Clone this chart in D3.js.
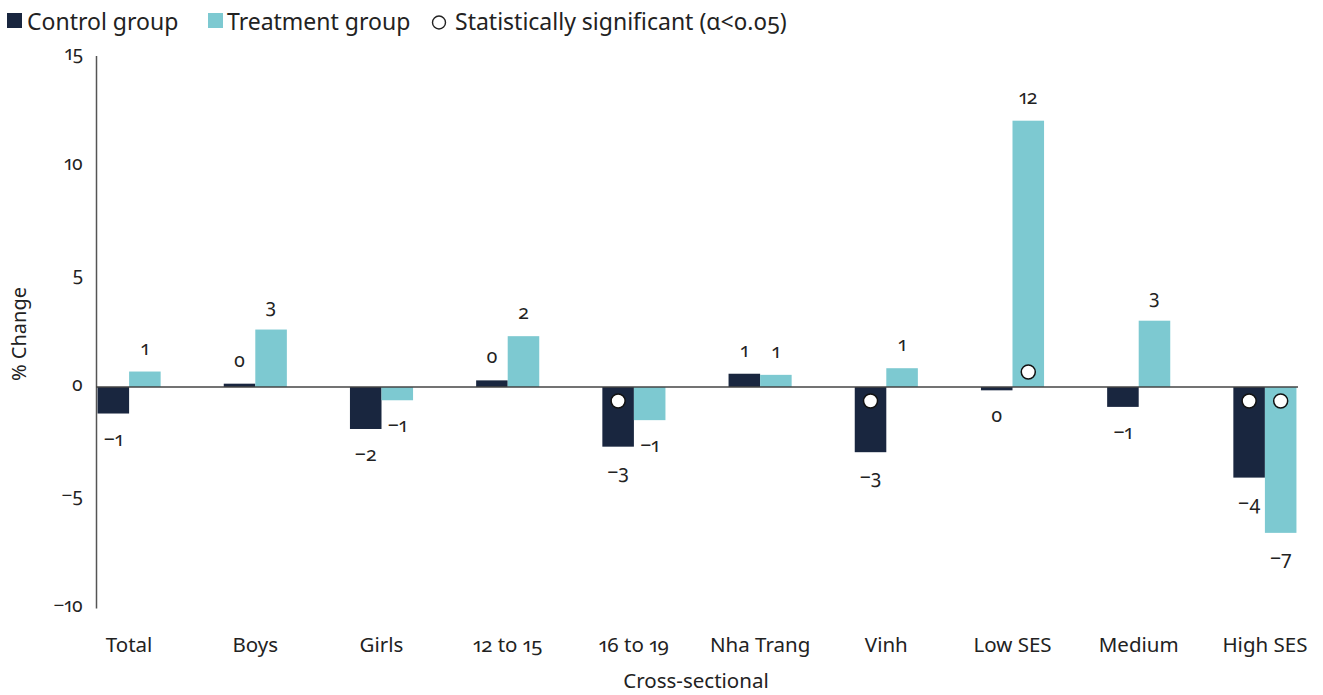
<!DOCTYPE html>
<html>
<head>
<meta charset="utf-8">
<script src="https://cdn.jsdelivr.net/npm/d3@7"></script>
<style>
  html, body { margin: 0; padding: 0; background: #fff; }
  svg text { font-family: "Noto Sans", "Open Sans", sans-serif; font-variant-numeric: oldstyle-nums proportional-nums; font-feature-settings: "onum" 1, "pnum" 1; }
</style>
</head>
<body>
<svg id="chart" width="1323" height="695"></svg>
<script>
// Percentage change by subgroup, control vs. treatment
const categories = ["Total", "Boys", "Girls", "12 to 15", "16 to 19", "Nha Trang", "Vinh", "Low SES", "Medium", "High SES"];
const controlValues = [-1.2, 0.15, -1.9, 0.3, -2.7, 0.6, -2.95, -0.15, -0.9, -4.1];
const treatmentValues = [0.7, 2.6, -0.6, 2.3, -1.5, 0.55, 0.85, 12.05, 3.0, -6.6];
const controlSignificant = [false, false, false, false, true, false, true, false, false, true];
const treatmentSignificant = [false, false, false, false, false, false, false, true, false, true];
const yTicks = [-10, -5, 0, 5, 10, 15];
const seriesNames = ["Control group", "Treatment group"];
const significanceLabel = "Statistically significant (\u03b1<0.05)";
const xTitle = "Cross-sectional";
const yTitle = "% Change";

const colors = { control: "#19263f", treatment: "#7dc9d1" };
const svg = d3.select("#chart");

const x = d3.scaleBand().domain(categories).range([66, 1328]).paddingInner(0.5).paddingOuter(0.25);
const sub = d3.scaleBand().domain(["control", "treatment"]).range([0, x.bandwidth()]);
const y = d3.scaleLinear().domain([-10, 15]).range([608, 55.5]);

const fmt = v => {
  const r = Math.round(v);
  return (r < 0 ? "\u2212" : "") + Math.abs(r);
};

// y axis
const yAxis = svg.append("g").attr("transform", "translate(96,0)")
  .call(d3.axisLeft(y).tickValues(yTicks).tickSize(0).tickPadding(13).tickFormat(fmt));
yAxis.select(".domain").attr("stroke", "#555").attr("stroke-width", 1.5);
yAxis.selectAll("text").attr("font-size", 19).attr("fill", "#222").attr("dy", "0.2em");

// category labels
const xAxis = svg.append("g").attr("transform", "translate(0,630)")
  .call(d3.axisBottom(x).tickSize(0).tickPadding(0));
xAxis.select(".domain").remove();
xAxis.selectAll("text").attr("font-size", 20.5).attr("fill", "#222").attr("dy", "1.05em");

// bars
const rows = categories.map((c, i) => ({
  cat: c,
  items: [
    { key: "control", value: controlValues[i], sig: controlSignificant[i] },
    { key: "treatment", value: treatmentValues[i], sig: treatmentSignificant[i] }
  ]
}));

const groups = svg.append("g").selectAll("g").data(rows).join("g")
  .attr("transform", d => `translate(${x(d.cat)},0)`);

groups.selectAll("rect").data(d => d.items).join("rect")
  .attr("x", d => sub(d.key))
  .attr("width", sub.bandwidth())
  .attr("y", d => y(Math.max(0, d.value)))
  .attr("height", d => Math.abs(y(d.value) - y(0)))
  .attr("fill", d => colors[d.key]);

// zero line
svg.append("line").attr("x1", 96).attr("x2", 1298).attr("y1", y(0)).attr("y2", y(0))
  .attr("stroke", "#444").attr("stroke-width", 1.5);

// value labels
groups.selectAll("text.val").data(d => d.items).join("text")
  .attr("class", "val")
  .attr("x", d => sub(d.key) + sub.bandwidth() / 2)
  .attr("y", d => d.value >= 0 ? y(d.value) - 17 : y(d.value) + 32)
  .attr("text-anchor", "middle")
  .attr("font-size", 19.5)
  .attr("fill", "#222")
  .text(d => fmt(d.value));

// significance markers
groups.selectAll("circle.sig").data(d => d.items.filter(e => e.sig)).join("circle")
  .attr("class", "sig")
  .attr("cx", d => sub(d.key) + sub.bandwidth() / 2)
  .attr("cy", d => d.value >= 0 ? y(0) - 15 : y(0) + 14)
  .attr("r", 7)
  .attr("fill", "#fff")
  .attr("stroke", "#111")
  .attr("stroke-width", 1.5);

// axis titles
svg.append("text").attr("x", 696).attr("y", 688).attr("text-anchor", "middle")
  .attr("font-size", 20.5).attr("fill", "#222").text(xTitle);
svg.append("text").attr("transform", "translate(26,334) rotate(-90)").attr("text-anchor", "middle")
  .attr("font-size", 20).attr("fill", "#222").text(yTitle);

// legend
const legend = svg.append("g");
legend.append("rect").attr("x", 7).attr("y", 13).attr("width", 15).attr("height", 15).attr("fill", colors.control);
legend.append("text").attr("x", 27).attr("y", 30).attr("font-size", 23).attr("fill", "#222").text(seriesNames[0]);
legend.append("rect").attr("x", 208).attr("y", 13).attr("width", 15).attr("height", 15).attr("fill", colors.treatment);
legend.append("text").attr("x", 227).attr("y", 30).attr("font-size", 23).attr("fill", "#222").text(seriesNames[1]);
legend.append("circle").attr("cx", 439).attr("cy", 22.5).attr("r", 6.5).attr("fill", "none").attr("stroke", "#222").attr("stroke-width", 1.4);
legend.append("text").attr("x", 455).attr("y", 30).attr("font-size", 23).attr("fill", "#222").text(significanceLabel);
</script>
</body>
</html>
